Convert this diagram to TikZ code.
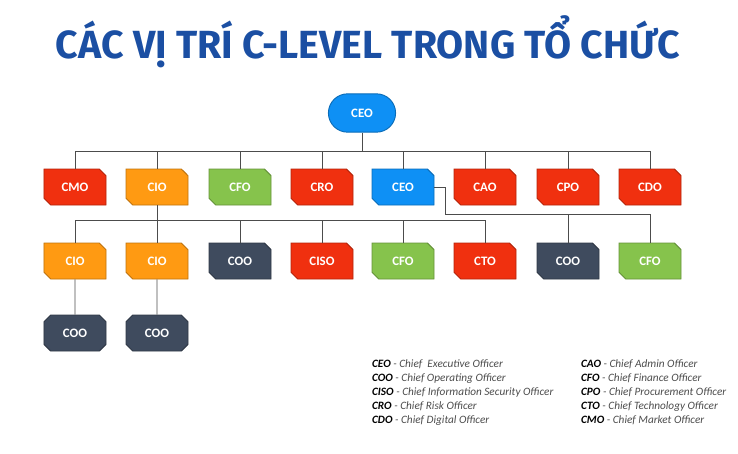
\documentclass[tikz,border=0pt]{standalone}
\usepackage{fontspec}
\setmainfont{Carlito}
\newfontfamily\titlefont{Fira Sans}
\usetikzlibrary{shapes.misc}
\definecolor{cred}{HTML}{F0300F}
\definecolor{corange}{HTML}{FF9A12}
\definecolor{cgreen}{HTML}{86C34C}
\definecolor{cblue}{HTML}{0E90F5}
\definecolor{cdark}{HTML}{3F4B5E}
\definecolor{ctitle}{HTML}{1B4FA3}
\tikzset{
  box/.style={chamfered rectangle, chamfered rectangle corners={north east,south west},
    chamfered rectangle xsep=0.1cm, chamfered rectangle ysep=0.1cm, minimum width=1.86cm, minimum height=1.08cm,
    fill=#1, draw=#1!75!black, thick, text=white, font=\bfseries\fontsize{11}{11}\selectfont},
  notch/.style={box=#1, chamfered rectangle corners={north east,south west,north west,south east}},
  link/.style={draw=black!70, thick}
}
\begin{document}
\begin{tikzpicture}[x=0.03cm,y=-0.03cm]
		\useasboundingbox (0,0) rectangle (738,453);
		%title
		\node (title) at (368,42) {\titlefont\bfseries\color{ctitle}\fontsize{33.5}{33.5}\selectfont CÁC VỊ TRÍ C-LEVEL TRONG TỔ CHỨC};
		
		%top
		\node[rounded rectangle, fill=cblue, draw=cblue!75!black, thick, text=white, font=\bfseries\fontsize{11}{11}\selectfont, minimum width=2.25cm, minimum height=1.15cm] (ceo) at (362,113) {CEO};
		
		%first row
		\node[box=cred] (cmo) at (75,187) {CMO};
		\node[box=corange] (cio) at (157,187) {CIO};
		\node[box=cgreen] (cfo) at (240,187) {CFO};
		\node[box=cred] (cro) at (322,187) {CRO};
		\node[box=cblue] (ceob) at (403,187) {CEO};
		\node[box=cred] (cao) at (485,187) {CAO};
		\node[box=cred] (cpo) at (568,187) {CPO};
		\node[box=cred] (cdo) at (650,187) {CDO};
		
		%second row
		\node[box=corange] (cioa) at (75,261) {CIO};
		\node[box=corange] (ciob) at (157,261) {CIO};
		\node[box=cdark] (cooa) at (240,261) {COO};
		\node[box=cred] (ciso) at (322,261) {CISO};
		\node[box=cgreen] (cfoa) at (403,261) {CFO};
		\node[box=cred] (cto) at (485,261) {CTO};
		\node[box=cdark] (coob) at (568,261) {COO};
		\node[box=cgreen] (cfob) at (650,261) {CFO};
		
		%third row
		\node[notch=cdark] (cooc) at (75,333) {COO};
		\node[notch=cdark] (cood) at (157,333) {COO};
		
		%links
		\draw[link] (ceo.south) -- (362,151);
		\foreach \n in {cmo,cio,cfo,cro,ceob,cao,cpo,cdo}
		    \draw[link] (\n.north) |- (ceo.south |- 0,151);
		\draw[link] (cio.south) -- (157,220);
		\foreach \n in {cioa,ciob,cooa,ciso,cfoa,cto}
		    \draw[link] (\n.north) |- (cio.south |- 0,220);
		\draw[link] (ceob.east) -| (445,214) -- (650,214);
		\foreach \n in {coob,cfob}
		    \draw[link] (\n.north) -- (\n.north |- 0,214);
		\draw[link] (cioa) -- (cooc);
		\draw[link] (ciob) -- (cood);
		
		%legend
		\node[anchor=north west, align=left, font=\itshape\fontsize{9.6}{11.8}\selectfont, text=black!70] (legl) at (368,356) {%
		  \textbf{\color{black}CEO} - Chief\ \ Executive Officer\\
		  \textbf{\color{black}COO} - Chief Operating Officer\\
		  \textbf{\color{black}CISO} - Chief Information Security Officer\\
		  \textbf{\color{black}CRO} - Chief Risk Officer\\
		  \textbf{\color{black}CDO} - Chief Digital Officer};
		\node[anchor=north west, align=left, font=\itshape\fontsize{9.6}{11.8}\selectfont, text=black!70] (legr) at (577,356) {%
		  \textbf{\color{black}CAO} - Chief Admin Officer\\
		  \textbf{\color{black}CFO} - Chief Finance Officer\\
		  \textbf{\color{black}CPO} - Chief Procurement Officer\\
		  \textbf{\color{black}CTO} - Chief Technology Officer\\
		  \textbf{\color{black}CMO} - Chief Market Officer};
\end{tikzpicture}
\end{document}
